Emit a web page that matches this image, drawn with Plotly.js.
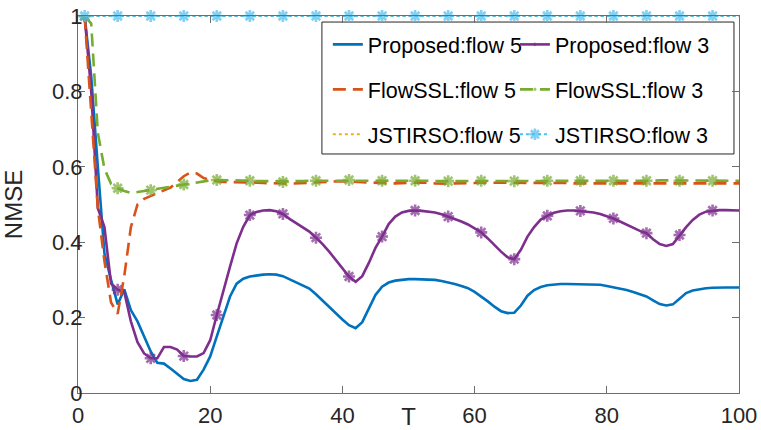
<!DOCTYPE html>
<html>
<head>
<meta charset="utf-8">
<script src="https://cdn.plot.ly/plotly-3.0.1.min.js"></script>
<style>html,body{margin:0;padding:0;background:#fff;}#chart{width:761px;height:430px;}</style>
</head>
<body>
<div id="chart"></div>
<script>
// Time index T = 1..100
const T = [1,2,3,4,5,6,7,8,9,10,11,12,13,14,15,16,17,18,19,20,
  21,22,23,24,25,26,27,28,29,30,31,32,33,34,35,36,37,38,39,40,
  41,42,43,44,45,46,47,48,49,50,51,52,53,54,55,56,57,58,59,60,
  61,62,63,64,65,66,67,68,69,70,71,72,73,74,75,76,77,78,79,80,
  81,82,83,84,85,86,87,88,89,90,91,92,93,94,95,96,97,98,99,100];

const proposedFlow5 = [1.0,0.84,0.60,0.37,0.30,0.235,0.275,0.22,0.19,0.15,
  0.11,0.08,0.078,0.065,0.05,0.037,0.032,0.035,0.062,0.097,
  0.15,0.203,0.256,0.29,0.303,0.309,0.312,0.314,0.315,0.314,
  0.31,0.302,0.293,0.285,0.277,0.262,0.245,0.23,0.212,0.195,
  0.18,0.172,0.188,0.225,0.26,0.282,0.293,0.298,0.301,0.302,
  0.302,0.302,0.302,0.30,0.297,0.294,0.289,0.284,0.278,0.268,
  0.256,0.243,0.229,0.217,0.212,0.213,0.232,0.258,0.273,0.281,
  0.286,0.288,0.289,0.289,0.289,0.289,0.289,0.289,0.287,0.284,
  0.281,0.277,0.273,0.268,0.263,0.256,0.246,0.236,0.232,0.235,
  0.25,0.265,0.272,0.276,0.278,0.279,0.28,0.28,0.28,0.28];

const proposedFlow3 = [1.0,0.80,0.49,0.44,0.29,0.274,0.268,0.19,0.135,0.105,
  0.092,0.092,0.122,0.122,0.115,0.098,0.097,0.097,0.106,0.14,
  0.207,0.274,0.335,0.397,0.441,0.472,0.48,0.484,0.485,0.482,
  0.475,0.462,0.451,0.44,0.428,0.412,0.395,0.375,0.352,0.33,
  0.309,0.295,0.31,0.345,0.385,0.415,0.448,0.468,0.479,0.483,
  0.484,0.483,0.482,0.479,0.474,0.468,0.461,0.455,0.447,0.437,
  0.426,0.41,0.392,0.375,0.36,0.355,0.38,0.415,0.44,0.46,
  0.47,0.478,0.482,0.484,0.484,0.483,0.482,0.479,0.475,0.47,
  0.463,0.455,0.446,0.437,0.43,0.424,0.408,0.395,0.39,0.395,
  0.419,0.44,0.459,0.473,0.481,0.484,0.485,0.485,0.484,0.484];

const flowSSLFlow5 = [1.0,0.75,0.49,0.35,0.24,0.21,0.31,0.44,0.50,0.515,
  0.522,0.53,0.537,0.545,0.56,0.575,0.585,0.582,0.57,0.565,
  0.562,0.56,0.56,0.56,0.559,0.558,0.558,0.557,0.557,0.556,
  0.556,0.555,0.556,0.557,0.558,0.558,0.559,0.56,0.561,0.562,
  0.561,0.56,0.56,0.559,0.557,0.556,0.556,0.556,0.557,0.557,
  0.558,0.558,0.558,0.556,0.555,0.555,0.556,0.556,0.556,0.557,
  0.558,0.558,0.558,0.557,0.557,0.558,0.558,0.558,0.557,0.557,
  0.557,0.557,0.557,0.557,0.556,0.556,0.556,0.556,0.556,0.556,
  0.556,0.555,0.555,0.555,0.555,0.554,0.554,0.555,0.556,0.556,
  0.556,0.556,0.556,0.556,0.556,0.556,0.556,0.556,0.556,0.556];

const flowSSLFlow3 = [1.0,0.98,0.69,0.595,0.555,0.543,0.536,0.531,0.533,0.536,
  0.538,0.54,0.543,0.546,0.55,0.553,0.556,0.559,0.562,0.564,
  0.565,0.565,0.564,0.564,0.563,0.563,0.562,0.562,0.561,0.561,
  0.56,0.56,0.561,0.562,0.563,0.563,0.563,0.564,0.564,0.565,
  0.565,0.565,0.564,0.564,0.563,0.563,0.563,0.563,0.563,0.563,
  0.563,0.563,0.563,0.562,0.562,0.562,0.563,0.563,0.563,0.563,
  0.563,0.563,0.563,0.563,0.562,0.562,0.562,0.563,0.563,0.563,
  0.563,0.563,0.563,0.563,0.563,0.563,0.563,0.563,0.563,0.563,
  0.563,0.563,0.563,0.563,0.563,0.563,0.563,0.564,0.564,0.563,
  0.563,0.563,0.563,0.563,0.563,0.563,0.563,0.563,0.563,0.563];

const jstirsoT = [1,6,11,16,21,26,31,36,41,46,51,56,61,66,71,76,81,86,91,96,100];
const jstirsoFlow5 = [1,1,1,1,1,1,1,1,1,1,1,1,1,1,1,1,1,1,1,1,1];
const jstirsoFlow3 = [1,1,1,1,1,1,1,1,1,1,1,1,1,1,1,1,1,1,1,1,1];

const seriesNames = ['Proposed:flow 5','Proposed:flow 3','FlowSSL:flow 5','FlowSSL:flow 3','JSTIRSO:flow 5','JSTIRSO:flow 3'];
const xTicks = [0,20,40,60,80,100];
const yTicks = [0,0.2,0.4,0.6,0.8,1];

const FONT = 'Liberation Sans, Arial, Helvetica, sans-serif';
const markSizes = xs => xs.map(t => ((t - 1) % 5 === 0 && t < 100) ? 10 : 0);
const dashStyle = '13px,7px';
const dotStyle = '3px,3px';

const traces = [
  {x: T, y: proposedFlow5, name: seriesNames[0], mode: 'lines', legend: 'legend', legendgroup: 'a',
   line: {color: '#0072BD', width: 2.6}},
  {x: T, y: proposedFlow3, name: seriesNames[1], mode: 'lines+markers', legend: 'legend2', legendgroup: 'b',
   line: {color: '#7E2F8E', width: 2.6},
   marker: {symbol: 'asterisk-open', size: markSizes(T), color: '#7E2F8E', line: {color: '#7E2F8E', width: 2.6}}},
  {x: T, y: flowSSLFlow5, name: seriesNames[2], mode: 'lines', legend: 'legend', legendgroup: 'c',
   line: {color: '#D95319', width: 2.6, dash: dashStyle}},
  {x: T, y: flowSSLFlow3, name: seriesNames[3], mode: 'lines+markers', legend: 'legend2', legendgroup: 'd',
   line: {color: '#77AC30', width: 2.6, dash: dashStyle},
   marker: {symbol: 'asterisk-open', size: markSizes(T), color: '#77AC30', line: {color: '#77AC30', width: 2.6}}},
  {x: jstirsoT, y: jstirsoFlow5, name: seriesNames[4], mode: 'lines', legend: 'legend', legendgroup: 'e',
   line: {color: '#EDB120', width: 2, dash: dotStyle}, cliponaxis: false},
  {x: jstirsoT, y: jstirsoFlow3, name: seriesNames[5], mode: 'lines+markers', legend: 'legend2', legendgroup: 'f',
   line: {color: '#4DBEEE', width: 2, dash: dotStyle}, cliponaxis: false,
   marker: {symbol: 'asterisk-open', size: markSizes(jstirsoT), color: '#4DBEEE', line: {color: '#4DBEEE', width: 2.6}}}
];

const axisCommon = {
  showline: true, linecolor: '#6e6e6e', linewidth: 1, mirror: 'ticks',
  ticks: 'inside', ticklen: 7, tickwidth: 1, tickcolor: '#6e6e6e',
  showgrid: false, zeroline: false,
  tickfont: {family: FONT, size: 22, color: '#262626'},
  automargin: false
};

const legendCommon = {
  orientation: 'v', yanchor: 'top', xanchor: 'left', y: 0.979,
  bgcolor: 'rgba(0,0,0,0)', borderwidth: 0,
  font: {family: FONT, size: 21.5, color: '#000'},
  traceorder: 'grouped', tracegroupgap: 14
};

const layout = {
  width: 761, height: 430,
  margin: {l: 78, r: 22, t: 16, b: 37, pad: 0},
  paper_bgcolor: '#fff', plot_bgcolor: '#fff',
  showlegend: true,
  xaxis: Object.assign({}, axisCommon, {
    range: [0, 100], tickvals: xTicks, ticktext: xTicks.map(String), ticklabelstandoff: 3,
    title: {text: 'T', font: {family: FONT, size: 24, color: '#262626'}, standoff: 0}
  }),
  yaxis: Object.assign({}, axisCommon, {
    range: [0, 1], tickvals: yTicks, ticktext: yTicks.map(String), ticklabelstandoff: -10,
    title: {text: 'NMSE', font: {family: FONT, size: 24, color: '#262626'}}
  }),
  legend: Object.assign({}, legendCommon, {x: 0.378}),
  legend2: Object.assign({}, legendCommon, {x: 0.661}),
  shapes: [{type: 'rect', xref: 'paper', yref: 'paper', x0: 0.369, x1: 0.9924, y0: 0.634, y1: 0.984,
    line: {color: '#262626', width: 1}, fillcolor: '#fff', layer: 'below'}]
};

Plotly.newPlot('chart', traces, layout, {displayModeBar: false, staticPlot: true});
</script>
</body>
</html>
